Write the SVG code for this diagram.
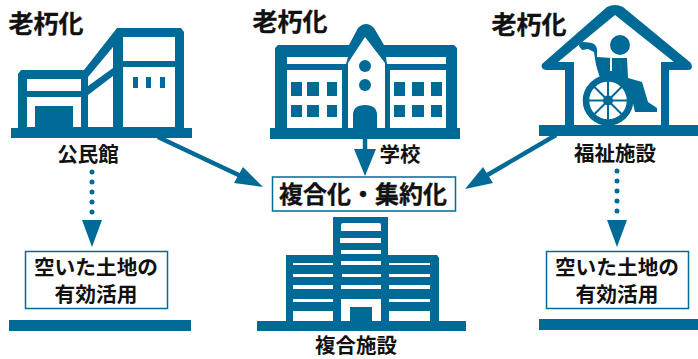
<svg xmlns="http://www.w3.org/2000/svg" width="698" height="359" viewBox="0 0 698 359">
<style>
.f{fill:#006a97}
.w{fill:#fff}
.t{font-family:"Noto Sans CJK JP","Noto Sans",sans-serif;fill:#111;text-anchor:middle;font-weight:700}
.h{font-size:25px;stroke:#111;stroke-width:.3}
.c{font-size:24px;stroke:#111;stroke-width:.3}
.l{font-size:20.5px}
.m{font-size:20.7px}
.b{fill:#fff;stroke:#006a97;stroke-width:1.5}
.line{stroke:#006a97;stroke-width:4.500;fill:none}
.dot{stroke:#006a97;stroke-width:5;stroke-linecap:round;stroke-dasharray:0 10;fill:none}
</style>
<rect width="698" height="359" fill="#fff"/>
<g id="connectors">
<path class="line" d="M158 137L245 178"/><path class="f" d="M263 187L234 183L243 167Z"/>
<path class="line" d="M556 135L484 177"/><path class="f" d="M465 189L483 167L493 183Z"/>
<path class="line" d="M365 139V152"/><path class="f" d="M354 149H376L365 176Z"/>
<path class="dot" d="M92 172V214"/><path class="f" d="M82 220H102L92 247Z"/>
<path class="dot" d="M617 171V214"/><path class="f" d="M607 220H627L617 247Z"/>
</g>
<g id="kominkan">
<rect class="f" x="11" y="128" width="181" height="10"/>
<path class="f" fill-rule="evenodd" d="M18 128V74L21 70H84L117 28H181L184 32V128ZM27 79V91H81V79ZM27 97V127H81V97ZM88 77V86L113 68V47ZM88 95V127H113V76ZM123 37V61H175V37ZM123 67V127H175V67Z"/>
<rect class="f" x="35" y="106" width="38" height="22"/>
<rect class="f" x="133" y="77" width="5" height="11"/><rect class="f" x="146" y="77" width="5" height="11"/><rect class="f" x="160" y="77" width="5" height="11"/>
<text class="t h" x="46" y="33">老朽化</text>
<text class="t l" x="88" y="162">公民館</text>
</g>
<g id="school">
<rect class="f" x="270" y="128" width="190" height="11"/>
<path class="f" fill-rule="evenodd" d="M275 128V48L278 45H349L358 28Q366 20 374 28L384 45H454L457 48V128ZM287 57V64H346L348 57ZM386 57L387 64H446V57ZM287 70V128H342V70ZM390 70V128H446V70ZM348 128V63L365 37L385 63V128Z"/>
<path class="f" d="M353 128V115Q353 105 365 105Q377 105 377 115V128Z"/>
<circle class="f" cx="365" cy="66" r="6"/><circle class="f" cx="365" cy="85" r="6"/>
<path class="f" d="M291 82h11v14h-11zM307 82h12v14h-12zM327 82h10v14h-10zM291 105h11v12h-11zM307 105h12v12h-12zM327 105h10v12h-10zM394 82h11v14h-11zM412 82h12v14h-12zM431 82h11v14h-11zM394 105h11v12h-11zM412 105h12v12h-12zM431 105h11v12h-11z"/>
<text class="t h" x="290" y="31">老朽化</text>
<text class="t l" x="400" y="162">学校</text>
</g>
<g id="welfare">
<rect class="f" x="539" y="125" width="159" height="11"/>
<path class="f" d="M542 64L607 7Q615 3 623 7L691 63Q694 70 688 70H669V125H661V62H674L615 15L558 62H574V125H565V70H546Q540 69 542 64Z"/>
<circle class="f" cx="620" cy="45" r="10"/>
<path class="f" d="M579 46Q579 42 584 42L592 43Q597 45 597 50L597 57L612 58L627 58L628 78L642 82L648 102L657 108V112H635L631 95L625 85L600 78L596 65L594 52L588 49L582 50Z"/>
<rect class="w" x="610" y="58" width="2" height="13"/>
<circle class="w" cx="608" cy="100.500" r="22"/>
<circle cx="608" cy="100.500" r="22" fill="none" stroke="#006a97" stroke-width="6.500"/>
<path d="M608 80V121M587.500 100.500H628.500M593.500 86L622.500 115M622.500 86L593.500 115" stroke="#006a97" stroke-width="2"/>
<circle class="f" cx="608" cy="100.500" r="5"/>
<text class="t h" x="529" y="34">老朽化</text>
<text class="t l" x="615" y="161">福祉施設</text>
</g>
<g id="center-box">
<rect class="b" x="272.500" y="177" width="183" height="34"/>
<text class="t c" x="363" y="203">複合化・集約化</text>
</g>
<g id="complex">
<rect class="f" x="257" y="321" width="209" height="10"/>
<path class="f" d="M333 255V217H388V255H437L439 258V321H286V255Z"/>
<path class="w" d="M341 225Q341 223 343 223H379Q381 223 381 225V231H341ZM340 238h41v5h-41zM341 250h40v4h-40zM341 261h40v4h-40zM342 274h39v3h-39zM341 285h40v4h-40zM293 263h40v2h-40zM293 274h40v3h-40zM293 285h40v4h-40zM293 299h40v3h-40zM293 311h40v10h-40zM389 263h41v2h-41zM389 274h41v3h-41zM389 285h41v4h-41zM389 299h41v3h-41zM389 311h41v10h-41zM341 299h40v22h-9v-14h-22v14h-9z"/>
<text class="t l" x="356" y="353">複合施設</text>
</g>
<g id="left-lot">
<rect class="b" x="25.500" y="251.500" width="142" height="57"/>
<text class="t m"><tspan x="96" y="275">空いた土地の</tspan><tspan x="96" y="302">有効活用</tspan></text>
<rect class="f" x="9" y="320" width="182" height="11"/>
</g>
<g id="right-lot">
<rect class="b" x="546.500" y="251.500" width="142" height="57"/>
<text class="t m"><tspan x="617" y="275">空いた土地の</tspan><tspan x="617" y="302">有効活用</tspan></text>
<rect class="f" x="539" y="319" width="159" height="11"/>
</g>
</svg>
